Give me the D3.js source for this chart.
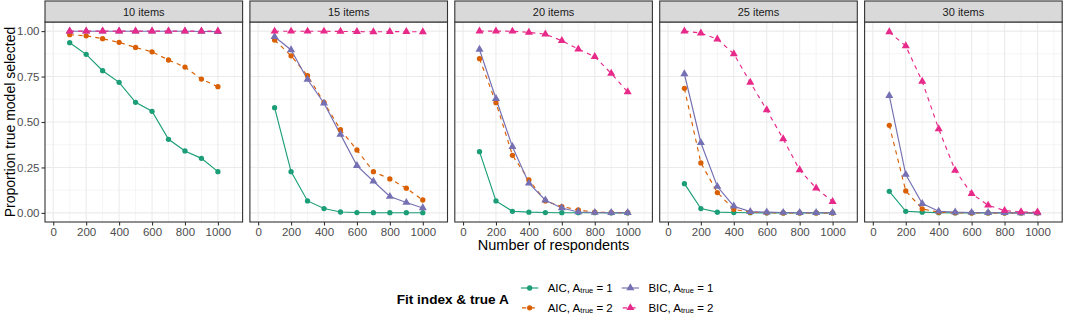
<!DOCTYPE html>
<html>
<head>
<meta charset="utf-8">
<script src="https://cdn.jsdelivr.net/npm/d3@7"></script>
<style>
  html, body { margin: 0; padding: 0; background: #fff; }
  svg { display: block; font-family: "Liberation Sans", Arial, sans-serif; }
</style>
</head>
<body>
<svg id="chart" width="1065" height="315"></svg>
<script>
// ---------------- data ----------------
const panels = ["10 items", "15 items", "20 items", "25 items", "30 items"];
const respondents = [100, 200, 300, 400, 500, 600, 700, 800, 900, 1000];
const xTicks = [0, 200, 400, 600, 800, 1000];
const yTicks = [0, 0.25, 0.5, 0.75, 1];
const yTickLabels = ["0.00", "0.25", "0.50", "0.75", "1.00"];

const seriesNames = ["AIC1", "AIC2", "BIC1", "BIC2"];
const seriesIndex = ["AIC", "AIC", "BIC", "BIC"];
const seriesA = ["1", "2", "1", "2"];

// values per panel (rows: 10,15,20,25,30 items)
const aic1 = [
  [0.936, 0.872, 0.782, 0.718, 0.608, 0.559, 0.405, 0.341, 0.300, 0.227],
  [0.579, 0.227, 0.066, 0.024, 0.005, 0.002, 0.001, 0.001, 0.001, 0.001],
  [0.337, 0.066, 0.009, 0.004, 0.002, 0.001, 0.001, 0.001, 0.000, 0.000],
  [0.161, 0.024, 0.004, 0.002, 0.001, 0.000, 0.000, 0.000, 0.000, 0.000],
  [0.119, 0.009, 0.004, 0.001, 0.000, 0.000, 0.000, 0.000, 0.000, 0.000]
];
const aic2 = [
  [0.980, 0.974, 0.958, 0.938, 0.910, 0.886, 0.841, 0.802, 0.736, 0.694],
  [0.951, 0.864, 0.755, 0.608, 0.458, 0.346, 0.227, 0.187, 0.136, 0.071],
  [0.848, 0.606, 0.317, 0.181, 0.066, 0.035, 0.016, 0.004, 0.002, 0.001],
  [0.685, 0.275, 0.112, 0.020, 0.004, 0.001, 0.000, 0.000, 0.000, 0.000],
  [0.482, 0.121, 0.022, 0.004, 0.001, 0.000, 0.000, 0.000, 0.000, 0.000]
];
const bic1 = [
  [0.999, 0.999, 0.999, 0.999, 0.999, 0.999, 0.999, 0.999, 0.998, 0.997],
  [0.969, 0.896, 0.734, 0.603, 0.432, 0.260, 0.174, 0.090, 0.057, 0.027],
  [0.899, 0.628, 0.364, 0.163, 0.070, 0.027, 0.005, 0.002, 0.001, 0.001],
  [0.764, 0.386, 0.145, 0.037, 0.007, 0.004, 0.002, 0.001, 0.001, 0.001],
  [0.645, 0.211, 0.051, 0.009, 0.004, 0.002, 0.001, 0.001, 0.000, 0.000]
];
const bic2 = [
  [1.000, 1.000, 1.000, 1.000, 1.000, 1.000, 1.000, 1.000, 1.000, 1.000],
  [0.999, 0.999, 0.999, 0.999, 0.998, 0.997, 0.996, 0.997, 0.997, 0.996],
  [1.000, 1.000, 0.999, 0.993, 0.983, 0.947, 0.901, 0.859, 0.767, 0.665],
  [1.000, 0.989, 0.956, 0.875, 0.718, 0.566, 0.407, 0.236, 0.136, 0.062],
  [0.995, 0.918, 0.723, 0.462, 0.234, 0.106, 0.042, 0.013, 0.005, 0.004]
];
const seriesData = [aic1, aic2, bic1, bic2];

// ---------------- styles ----------------
const colors = ["#1B9E77", "#D95F02", "#7570B3", "#E7298A"];
const dashes = [null, "4.3,4.3", null, "4.3,4.3"];
const shapes = [d3.symbolCircle, d3.symbolCircle, d3.symbolTriangle, d3.symbolTriangle];

// ---------------- layout ----------------
const svg = d3.select("#chart");
const panelLeft = 45, panelW = 197.6, gap = 7.3;
const plotTop = 22, plotBottom = 222, stripTop = 1;

const y = d3.scaleLinear().domain([-0.05, 1.05]).range([plotBottom, plotTop]);
const minorY = [0.125, 0.375, 0.625, 0.875];
const minorX = [100, 300, 500, 700, 900, 1100];

panels.forEach((pName, pi) => {
  const x0 = panelLeft + pi * (panelW + gap);
  const x = d3.scaleLinear().domain([-50, 1150]).range([x0, x0 + panelW]);
  const g = svg.append("g");

  g.append("rect").attr("x", x0).attr("y", plotTop).attr("width", panelW)
    .attr("height", plotBottom - plotTop).attr("fill", "#fff");

  // minor grid
  g.selectAll(".mgy").data(minorY).enter().append("line")
    .attr("x1", x0).attr("x2", x0 + panelW)
    .attr("y1", d => y(d)).attr("y2", d => y(d))
    .attr("stroke", "#ebebeb").attr("stroke-width", 0.55);
  g.selectAll(".mgx").data(minorX).enter().append("line")
    .attr("y1", plotTop).attr("y2", plotBottom)
    .attr("x1", d => x(d)).attr("x2", d => x(d))
    .attr("stroke", "#ebebeb").attr("stroke-width", 0.55);
  // major grid
  g.selectAll(".Mgy").data(yTicks).enter().append("line")
    .attr("x1", x0).attr("x2", x0 + panelW)
    .attr("y1", d => y(d)).attr("y2", d => y(d))
    .attr("stroke", "#ebebeb").attr("stroke-width", 1.1);
  g.selectAll(".Mgx").data(xTicks).enter().append("line")
    .attr("y1", plotTop).attr("y2", plotBottom)
    .attr("x1", d => x(d)).attr("x2", d => x(d))
    .attr("stroke", "#ebebeb").attr("stroke-width", 1.1);

  // lines
  seriesData.forEach((sd, si) => {
    const vals = sd[pi];
    const line = d3.line().x((d, i) => x(respondents[i])).y(d => y(d));
    const path = g.append("path").datum(vals).attr("d", line)
      .attr("fill", "none").attr("stroke", colors[si]).attr("stroke-width", 1.15);
    if (dashes[si]) path.attr("stroke-dasharray", dashes[si]);
  });
  // points
  seriesData.forEach((sd, si) => {
    const vals = sd[pi];
    const sym = d3.symbol().type(shapes[si]).size(shapes[si] === d3.symbolCircle ? 22 : 28);
    g.selectAll(null).data(vals).enter().append("path")
      .attr("d", sym)
      .attr("transform", (d, i) => `translate(${x(respondents[i])},${y(d)})`)
      .attr("fill", colors[si]);
  });

  // border
  g.append("rect").attr("x", x0).attr("y", plotTop).attr("width", panelW)
    .attr("height", plotBottom - plotTop).attr("fill", "none")
    .attr("stroke", "#333333").attr("stroke-width", 1.1);

  // strip
  g.append("rect").attr("x", x0).attr("y", stripTop).attr("width", panelW)
    .attr("height", plotTop - stripTop).attr("fill", "#d9d9d9")
    .attr("stroke", "#333333").attr("stroke-width", 1.1);
  g.append("text").attr("x", x0 + panelW / 2).attr("y", (stripTop + plotTop) / 2 + 4)
    .attr("text-anchor", "middle").attr("font-size", 11).attr("fill", "#1a1a1a")
    .text(pName);

  // x axis
  const xAxis = d3.axisBottom(x).tickValues(xTicks).tickSize(3.5).tickPadding(2).tickFormat(d3.format("d"));
  const ax = g.append("g").attr("transform", `translate(0,${plotBottom})`).call(xAxis);
  ax.select(".domain").remove();
  ax.selectAll(".tick line").attr("stroke", "#333333").attr("stroke-width", 1.1);
  ax.selectAll(".tick text").attr("fill", "#4d4d4d").attr("font-size", 11.5)
    .attr("font-family", "Liberation Sans, Arial, sans-serif");

  if (pi === 0) {
    const yAxis = d3.axisLeft(y).tickValues(yTicks).tickSize(3.5).tickPadding(2)
      .tickFormat((d, i) => yTickLabels[i]);
    const ay = g.append("g").attr("transform", `translate(${x0},0)`).call(yAxis);
    ay.select(".domain").remove();
    ay.selectAll(".tick line").attr("stroke", "#333333").attr("stroke-width", 1.1);
    ay.selectAll(".tick text").attr("fill", "#4d4d4d").attr("font-size", 11.5)
      .attr("font-family", "Liberation Sans, Arial, sans-serif");
  }
});

// axis titles
const plotsRight = panelLeft + 5 * panelW + 4 * gap;
svg.append("text").attr("x", (panelLeft + plotsRight) / 2).attr("y", 249.5)
  .attr("text-anchor", "middle").attr("font-size", 14.5).attr("fill", "#000")
  .text("Number of respondents");
svg.append("text").attr("transform", `translate(14.5,${(plotTop + plotBottom) / 2}) rotate(-90)`)
  .attr("text-anchor", "middle").attr("font-size", 14).attr("fill", "#000")
  .text("Proportion true model selected");

// legend
const leg = svg.append("g");
leg.append("text").attr("x", 396.7).attr("y", 303.5).attr("font-size", 13.6)
  .attr("font-weight", "bold").attr("fill", "#000").text("Fit index & true A");
const keyX = [521, 621.7], keyY = [288, 307.8];
seriesNames.forEach((s, si) => {
  const col = si >= 2 ? 1 : 0, row = si % 2;
  const kx = keyX[col], ky = keyY[row];
  const kl = leg.append("line").attr("x1", kx).attr("x2", kx + 17.3)
    .attr("y1", ky).attr("y2", ky).attr("stroke", colors[si]).attr("stroke-width", 1.15);
  if (dashes[si]) kl.attr("stroke-dasharray", "4.3,4.3").attr("stroke-dashoffset", -1);
  leg.append("path").attr("d", d3.symbol().type(shapes[si]).size(shapes[si] === d3.symbolCircle ? 22 : 28)())
    .attr("transform", `translate(${kx + 8.65},${ky})`).attr("fill", colors[si]);
  const t = leg.append("text").attr("x", kx + 26.7).attr("y", ky + 3.8).attr("font-size", 11.5).attr("fill", "#000");
  t.append("tspan").text(seriesIndex[si] + ", A");
  t.append("tspan").attr("font-size", 7.5).attr("dy", 1.5).text("true");
  t.append("tspan").attr("dy", -1.5).text(" = " + seriesA[si]);
});
</script>
</body>
</html>
